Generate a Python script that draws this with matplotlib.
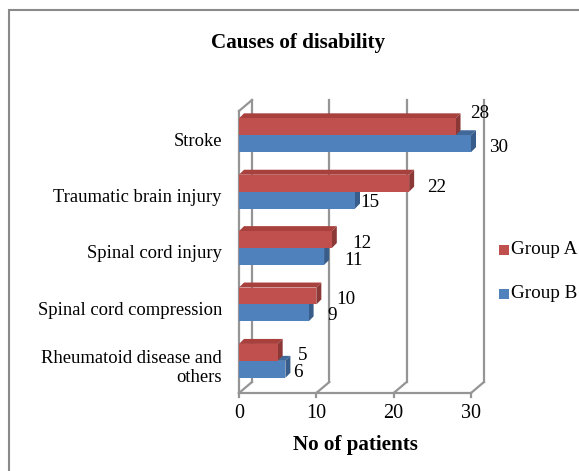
import matplotlib
matplotlib.use("Agg")
import matplotlib.pyplot as plt
from matplotlib.patches import Rectangle, Polygon

# ---- data ----
categories = ["Stroke", "Traumatic brain injury", "Spinal cord injury",
              "Spinal cord compression", "Rheumatoid disease and\nothers"]
group_a = [28, 22, 12, 10, 5]
group_b = [30, 15, 11, 9, 6]
series_names = ["Group A", "Group B"]
x_ticks = [0, 10, 20, 30]
title = "Causes of disability"
xlabel = "No of patients"

# label offsets (pixels) relative to bar end
a_lab_dx = [15, 18, 20, 20, 20]
a_lab_dy = [-13, 4, 4, 4, 3]
b_lab_dx = [18, 5, 20, 19, 8]
b_lab_dy = [4, 2, 4, 3, 3]

RED = "#C0504D"; RED_TOP = "#A8403D"; RED_SIDE = "#8C3836"
BLUE = "#4F81BD"; BLUE_TOP = "#40699A"; BLUE_SIDE = "#385D8A"
GRID = "#959595"
FONT = "Liberation Serif"

W, H = 579, 471
fig = plt.figure(figsize=(W / 100, H / 100), dpi=100)
fig.patch.set_facecolor("white")

# outer border (right and bottom edges lie outside the image)
fig.add_artist(Rectangle((9 / W, -0.1), 1.2, 1.1 - 10 / H, transform=fig.transFigure,
                         fill=False, edgecolor="#8a8a8a", lw=1.5))

x0, x30 = 239, 471
ytop, ybot = 111, 393
ax = fig.add_axes([x0 / W, 1 - ybot / H, (x30 - x0) / W, (ybot - ytop) / H])
ax.set_xlim(0, 30)
ax.set_ylim(4.5, -0.5)
ax.axis("off")

fig.canvas.draw()
px_x = ax.transData.transform((1, 0))[0] - ax.transData.transform((0, 0))[0]
px_y = ax.transData.transform((0, 0))[1] - ax.transData.transform((0, 1))[1]

WDX, WDY = 13 / px_x, 11 / px_y   # wall depth in data units (y up = negative)
BDX, BDY = 5 / px_x, 5 / px_y     # bar depth

lw = 1.6
yb, yt = 4.5, -0.5
# left wall
ax.plot([0, 0], [yb, yt], color=GRID, lw=lw, clip_on=False, zorder=1)
ax.plot([WDX, WDX], [yb - WDY, yt - WDY], color=GRID, lw=lw, clip_on=False, zorder=1)
ax.plot([0, WDX], [yt, yt - WDY], color=GRID, lw=lw, clip_on=False, zorder=1)
ax.plot([0, WDX], [yb, yb - WDY], color=GRID, lw=lw, clip_on=False, zorder=1)
# floor front edge
ax.plot([0, 30], [yb, yb], color=GRID, lw=lw, clip_on=False, zorder=1)
for t in x_ticks[1:]:
    ax.plot([t + WDX, t + WDX], [yb - WDY, yt - WDY], color=GRID, lw=lw, clip_on=False, zorder=1)
    ax.plot([t, t + WDX], [yb, yb - WDY], color=GRID, lw=lw, clip_on=False, zorder=1)
# tick marks and labels
for t in x_ticks:
    ax.plot([t, t], [yb, yb + 4 / px_y], color=GRID, lw=lw, clip_on=False, zorder=1)
    ax.text(t, yb + 20 / px_y, str(t), ha="center", va="center",
            fontsize=14.5, family=FONT)

bh = 0.30
def bar3d(xv, ytop_, face, top, side):
    ax.add_patch(Polygon([(0, ytop_), (xv, ytop_), (xv + BDX, ytop_ - BDY), (BDX, ytop_ - BDY)],
                         closed=True, facecolor=top, edgecolor="none", zorder=3, clip_on=False))
    ax.add_patch(Polygon([(xv, ytop_), (xv + BDX, ytop_ - BDY), (xv + BDX, ytop_ + bh - BDY), (xv, ytop_ + bh)],
                         closed=True, facecolor=side, edgecolor="none", zorder=3, clip_on=False))
    ax.add_patch(Rectangle((0, ytop_), xv, bh, facecolor=face, edgecolor="none", zorder=3, clip_on=False))

for i in range(len(categories)):
    c = i - 0.07
    bar3d(group_b[i], c, BLUE, BLUE_TOP, BLUE_SIDE)
    bar3d(group_a[i], c - bh, RED, RED_TOP, RED_SIDE)
    ax.annotate(str(group_a[i]), (group_a[i], c - bh / 2), xytext=(a_lab_dx[i] * 0.72, -a_lab_dy[i] * 0.72),
                textcoords="offset points", ha="left", va="center", fontsize=13.8, family=FONT,
                zorder=5, annotation_clip=False)
    ax.annotate(str(group_b[i]), (group_b[i], c + bh / 2), xytext=(b_lab_dx[i] * 0.72, -b_lab_dy[i] * 0.72),
                textcoords="offset points", ha="left", va="center", fontsize=13.8, family=FONT,
                zorder=5, annotation_clip=False)
    shift = 3 if "\n" in categories[i] else 2
    ax.text(-17 / px_x, i + shift / px_y, categories[i], ha="right", va="center",
            fontsize=13.4, family=FONT, linespacing=1.12)

# title and axis label
fig.text(298 / W, 1 - 43 / H, title, ha="center", va="center", fontsize=15.2,
         fontweight="bold", family=FONT)
fig.text(355 / W, 1 - 445 / H, xlabel, ha="center", va="center", fontsize=15.2,
         fontweight="bold", family=FONT)

# legend
for j, (name, col) in enumerate(zip(series_names, [RED, BLUE])):
    yy = 250 + j * 44
    fig.add_artist(Rectangle((499 / W, 1 - (yy + 5) / H), 10 / W, 10 / H,
                             transform=fig.transFigure, facecolor=col, edgecolor="none"))
    fig.text(511 / W, 1 - yy / H, name, ha="left", va="center", fontsize=13.8, family=FONT)

fig.savefig("out.png", dpi=100)
